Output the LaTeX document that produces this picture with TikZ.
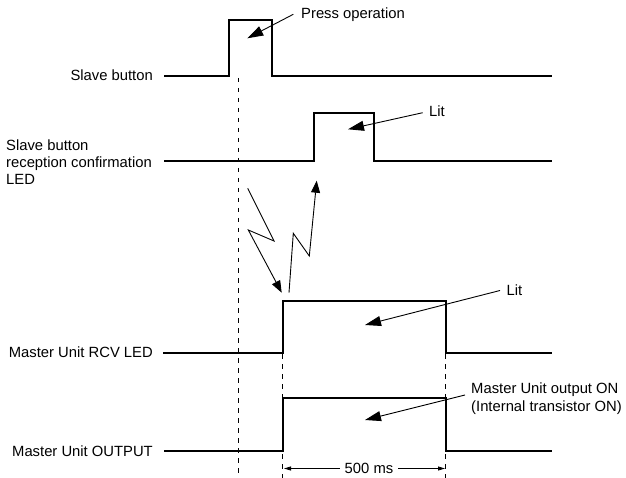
\documentclass[tikz,border=0pt]{standalone}
\usepackage{fontspec}
\setmainfont{Liberation Sans}
\usetikzlibrary{arrows.meta}
\begin{document}
\begin{tikzpicture}[x=1pt,y=-1pt,
  sig/.style={line width=2pt, line join=miter},
  ann/.style={line width=0.9pt, -{Triangle[length=16pt,width=10pt]}},
  zig/.style={line width=0.9pt, -{Triangle[length=12pt,width=9pt]}, line join=miter},
  dim/.style={line width=0.8pt, -{Triangle[length=7pt,width=4pt]}},
  guide/.style={line width=0.8pt, dash pattern=on 4.5pt off 5.5pt},
  lab/.style={font=\fontsize{14.8}{16.8}\selectfont, inner sep=0pt}]
\useasboundingbox (0,0) rectangle (626,478);
% labels
\node[lab, anchor=east] (lsb) at (153,75) {Slave button};
\node[lab, anchor=west, align=left] (lled) at (6,162) {Slave button\\reception confirmation\\LED};
\node[lab, anchor=east] (lrcv) at (153,352) {Master Unit RCV LED};
\node[lab, anchor=east] (lout) at (153,451) {Master Unit OUTPUT};
% waveforms
\draw[sig] (164,76) -- (228.5,76) -- (228.5,20) -- (271.5,20) -- (271.5,76) -- (552,76);
\draw[sig] (164,161) -- (313.5,161) -- (313.5,113) -- (374,113) -- (374,161) -- (552,161);
\draw[sig] (163,352.5) -- (282.7,352.5) -- (282.7,300.5) -- (445.7,300.5) -- (445.7,352.5) -- (552,352.5);
\draw[sig] (164,450.5) -- (282.7,450.5) -- (282.7,398.3) -- (445.7,398.3) -- (445.7,450.5) -- (552,450.5);
% guides
\draw[guide] (238,78) -- (238,478);
\draw[guide] (282.7,354) -- (282.7,478);
\draw[guide] (445.7,354) -- (445.7,478);
% annotations
\node[lab, anchor=west] (tpress) at (301,15) {Press operation};
\coordinate (spress) at (293.3,14.3);
\coordinate (ppress) at (247.3,38.3);
\draw[ann] (spress) -- (ppress);
\node[lab, anchor=west] (tlit1) at (429,111) {Lit};
\coordinate (slit1) at (422.7,112.7);
\coordinate (plit1) at (348,129.3);
\draw[ann] (slit1) -- (plit1);
\node[lab, anchor=west] (tlit2) at (506.5,290) {Lit};
\coordinate (slit2) at (500,290.5);
\coordinate (plit2) at (365,325);
\draw[ann] (slit2) -- (plit2);
\node[lab, anchor=west, align=left, font=\fontsize{14.8}{18.5}\selectfont] (tout) at (471,398.5) {Master Unit output ON\\(Internal transistor ON)};
\coordinate (sout) at (465,395);
\coordinate (pout) at (365,420);
\draw[ann] (sout) -- (pout);
% zigzag transmissions
\coordinate (z1a) at (247.7,188.3);
\coordinate (z1b) at (274,241);
\coordinate (z1c) at (248.3,230);
\coordinate (z1d) at (281.7,292.7);
\draw[zig] (z1a) -- (z1b) -- (z1c) -- (z1d);
\coordinate (z2a) at (289,292.7);
\coordinate (z2b) at (293.3,233.3);
\coordinate (z2c) at (309.3,256);
\coordinate (z2d) at (316.7,180.7);
\draw[zig] (z2a) -- (z2b) -- (z2c) -- (z2d);
% 500 ms
\node[lab, fill=white, inner xsep=5pt] (t500) at (369,468.5) {500 ms};
\coordinate (d1) at (284,468.5);
\coordinate (d2) at (445,468.5);
\draw[dim] (t500.west) -- (d1);
\draw[dim] (t500.east) -- (d2);
\end{tikzpicture}
\end{document}
